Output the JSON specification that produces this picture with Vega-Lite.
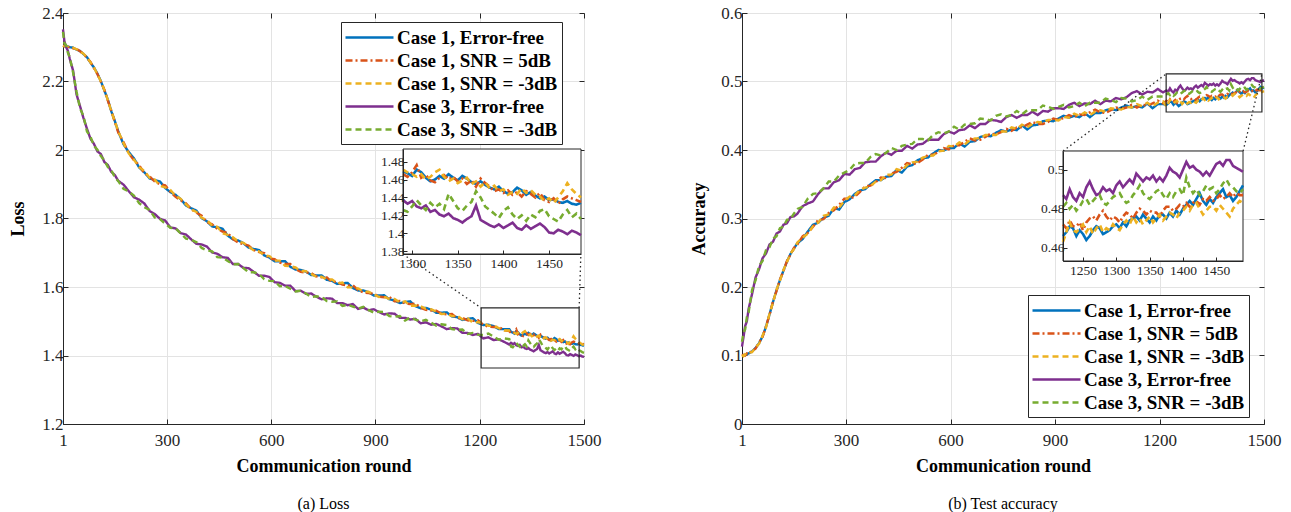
{
"$schema":"https://vega.github.io/schema/vega-lite/v6.json",
"background":"white",
"padding":{"left":9,"top":3,"right":5,"bottom":2},
"spacing":158,
"bounds":"flush",
"config":{"view":{"stroke":"#262626","strokeWidth":1},"font":"Liberation Serif",
"axis":{"labelFont":"Liberation Serif","labelFontSize":17,"labelColor":"#262626","tickColor":"#262626","tickSize":-5,"domainColor":"#262626","gridColor":"#e3e3e3","titleFont":"Liberation Serif","titleFontSize":18,"titleFontWeight":"bold","titleColor":"black","labelFlush":false,"labelOverlap":false},
"legend":{"title":null,"symbolType":"M-2.4,0H2.4","symbolSize":400,"symbolStrokeWidth":2.5,"symbolOffset":13,"labelFont":"Liberation Serif","labelFontSize":19,"labelFontWeight":"bold","labelColor":"black","labelLimit":400,"labelOffset":16,"rowPadding":1,"padding":4,"strokeColor":"#262626","fillColor":"white"}},
"datasets":{
"names":[{"k":"a","series":"Case 1, Error-free"},{"k":"b","series":"Case 1, SNR = 5dB"},{"k":"c","series":"Case 1, SNR = -3dB"},{"k":"d","series":"Case 3, Error-free"},{"k":"e","series":"Case 3, SNR = -3dB"}],
"loss":[
{"r":1,"a":2.304,"b":2.304,"c":2.305,"d":2.352,"e":2.345},
{"r":5,"a":2.303,"b":2.304,"c":2.302,"d":2.318,"e":2.312},
{"r":10,"a":2.302,"b":2.301,"c":2.303,"d":2.3,"e":2.306},
{"r":15,"a":2.302,"b":2.3,"c":2.301,"d":2.29,"e":2.284},
{"r":20,"a":2.3,"b":2.302,"c":2.299,"d":2.268,"e":2.272},
{"r":30,"a":2.299,"b":2.297,"c":2.299,"d":2.232,"e":2.226},
{"r":40,"a":2.293,"b":2.295,"c":2.294,"d":2.162,"e":2.17},
{"r":50,"a":2.289,"b":2.288,"c":2.287,"d":2.128,"e":2.122},
{"r":60,"a":2.28,"b":2.281,"c":2.281,"d":2.093,"e":2.099},
{"r":70,"a":2.271,"b":2.269,"c":2.27,"d":2.062,"e":2.054},
{"r":80,"a":2.255,"b":2.257,"c":2.256,"d":2.033,"e":2.039},
{"r":90,"a":2.241,"b":2.239,"c":2.241,"d":2.018,"e":2.012},
{"r":100,"a":2.223,"b":2.222,"c":2.221,"d":1.996,"e":2.001},
{"r":110,"a":2.201,"b":2.199,"c":2.2,"d":1.988,"e":1.982},
{"r":120,"a":2.174,"b":2.176,"c":2.175,"d":1.965,"e":1.97},
{"r":130,"a":2.147,"b":2.144,"c":2.146,"d":1.956,"e":1.95},
{"r":140,"a":2.113,"b":2.115,"c":2.113,"d":1.936,"e":1.941},
{"r":150,"a":2.085,"b":2.082,"c":2.084,"d":1.927,"e":1.921},
{"r":160,"a":2.054,"b":2.051,"c":2.055,"d":1.91,"e":1.909},
{"r":175,"a":2.017,"b":2.023,"c":2.02,"d":1.899,"e":1.887},
{"r":190,"a":1.994,"b":1.991,"c":1.99,"d":1.88,"e":1.879},
{"r":205,"a":1.976,"b":1.97,"c":1.972,"d":1.862,"e":1.867},
{"r":220,"a":1.949,"b":1.956,"c":1.95,"d":1.855,"e":1.845},
{"r":235,"a":1.935,"b":1.932,"c":1.939,"d":1.844,"e":1.833},
{"r":250,"a":1.917,"b":1.923,"c":1.919,"d":1.822,"e":1.825},
{"r":265,"a":1.912,"b":1.908,"c":1.914,"d":1.813,"e":1.803},
{"r":280,"a":1.908,"b":1.9,"c":1.895,"d":1.799,"e":1.798},
{"r":295,"a":1.889,"b":1.897,"c":1.891,"d":1.794,"e":1.785},
{"r":310,"a":1.877,"b":1.878,"c":1.883,"d":1.774,"e":1.773},
{"r":325,"a":1.869,"b":1.863,"c":1.866,"d":1.771,"e":1.771},
{"r":340,"a":1.856,"b":1.853,"c":1.857,"d":1.757,"e":1.756},
{"r":355,"a":1.838,"b":1.844,"c":1.841,"d":1.753,"e":1.741},
{"r":370,"a":1.83,"b":1.827,"c":1.826,"d":1.739,"e":1.738},
{"r":385,"a":1.823,"b":1.817,"c":1.819,"d":1.726,"e":1.731},
{"r":400,"a":1.801,"b":1.808,"c":1.802,"d":1.724,"e":1.714},
{"r":415,"a":1.792,"b":1.789,"c":1.796,"d":1.718,"e":1.707},
{"r":430,"a":1.777,"b":1.783,"c":1.779,"d":1.701,"e":1.704},
{"r":445,"a":1.774,"b":1.77,"c":1.776,"d":1.697,"e":1.687},
{"r":460,"a":1.77,"b":1.762,"c":1.757,"d":1.687,"e":1.686},
{"r":475,"a":1.75,"b":1.758,"c":1.752,"d":1.685,"e":1.676},
{"r":490,"a":1.739,"b":1.74,"c":1.745,"d":1.667,"e":1.666},
{"r":505,"a":1.736,"b":1.73,"c":1.733,"d":1.667,"e":1.667},
{"r":520,"a":1.728,"b":1.725,"c":1.729,"d":1.656,"e":1.655},
{"r":535,"a":1.715,"b":1.721,"c":1.718,"d":1.655,"e":1.643},
{"r":550,"a":1.711,"b":1.708,"c":1.707,"d":1.644,"e":1.643},
{"r":565,"a":1.708,"b":1.702,"c":1.704,"d":1.633,"e":1.638},
{"r":580,"a":1.692,"b":1.699,"c":1.693,"d":1.633,"e":1.623},
{"r":595,"a":1.686,"b":1.683,"c":1.69,"d":1.629,"e":1.618},
{"r":610,"a":1.675,"b":1.681,"c":1.677,"d":1.614,"e":1.617},
{"r":625,"a":1.675,"b":1.671,"c":1.677,"d":1.612,"e":1.602},
{"r":640,"a":1.675,"b":1.667,"c":1.662,"d":1.604,"e":1.603},
{"r":655,"a":1.659,"b":1.667,"c":1.661,"d":1.604,"e":1.595},
{"r":670,"a":1.651,"b":1.652,"c":1.657,"d":1.588,"e":1.587},
{"r":685,"a":1.65,"b":1.644,"c":1.647,"d":1.589,"e":1.589},
{"r":700,"a":1.645,"b":1.642,"c":1.646,"d":1.58,"e":1.581},
{"r":715,"a":1.635,"b":1.641,"c":1.638,"d":1.581,"e":1.571},
{"r":730,"a":1.634,"b":1.631,"c":1.63,"d":1.572,"e":1.573},
{"r":745,"a":1.634,"b":1.628,"c":1.63,"d":1.564,"e":1.571},
{"r":760,"a":1.621,"b":1.628,"c":1.622,"d":1.567,"e":1.559},
{"r":775,"a":1.618,"b":1.615,"c":1.622,"d":1.566,"e":1.557},
{"r":790,"a":1.609,"b":1.615,"c":1.611,"d":1.553,"e":1.558},
{"r":805,"a":1.611,"b":1.607,"c":1.613,"d":1.553,"e":1.545},
{"r":820,"a":1.612,"b":1.604,"c":1.599,"d":1.547,"e":1.548},
{"r":835,"a":1.597,"b":1.605,"c":1.599,"d":1.55,"e":1.543},
{"r":850,"a":1.59,"b":1.591,"c":1.596,"d":1.536,"e":1.537},
{"r":865,"a":1.59,"b":1.584,"c":1.587,"d":1.54,"e":1.542},
{"r":880,"a":1.585,"b":1.582,"c":1.586,"d":1.532,"e":1.533},
{"r":895,"a":1.575,"b":1.581,"c":1.578,"d":1.535,"e":1.525},
{"r":910,"a":1.575,"b":1.572,"c":1.571,"d":1.527,"e":1.528},
{"r":925,"a":1.576,"b":1.57,"c":1.572,"d":1.52,"e":1.527},
{"r":940,"a":1.564,"b":1.571,"c":1.565,"d":1.523,"e":1.515},
{"r":955,"a":1.561,"b":1.558,"c":1.565,"d":1.522,"e":1.513},
{"r":970,"a":1.553,"b":1.559,"c":1.555,"d":1.51,"e":1.515},
{"r":985,"a":1.556,"b":1.552,"c":1.558,"d":1.51,"e":1.502},
{"r":1000,"a":1.558,"b":1.55,"c":1.545,"d":1.505,"e":1.511},
{"r":1015,"a":1.544,"b":1.552,"c":1.546,"d":1.507,"e":1.505},
{"r":1030,"a":1.538,"b":1.539,"c":1.544,"d":1.494,"e":1.5},
{"r":1045,"a":1.539,"b":1.533,"c":1.536,"d":1.497,"e":1.504},
{"r":1060,"a":1.534,"b":1.531,"c":1.535,"d":1.49,"e":1.496},
{"r":1075,"a":1.525,"b":1.531,"c":1.528,"d":1.492,"e":1.487},
{"r":1090,"a":1.525,"b":1.522,"c":1.521,"d":1.485,"e":1.491},
{"r":1105,"a":1.526,"b":1.52,"c":1.522,"d":1.477,"e":1.489},
{"r":1120,"a":1.514,"b":1.521,"c":1.515,"d":1.48,"e":1.477},
{"r":1135,"a":1.512,"b":1.509,"c":1.516,"d":1.479,"e":1.475},
{"r":1150,"a":1.504,"b":1.51,"c":1.506,"d":1.466,"e":1.476},
{"r":1165,"a":1.507,"b":1.503,"c":1.509,"d":1.466,"e":1.463},
{"r":1180,"a":1.509,"b":1.501,"c":1.496,"d":1.46,"e":1.466},
{"r":1195,"a":1.495,"b":1.503,"c":1.497,"d":1.463,"e":1.461},
{"r":1210,"a":1.489,"b":1.49,"c":1.495,"d":1.45,"e":1.46},
{"r":1225,"a":1.49,"b":1.484,"c":1.487,"d":1.453,"e":1.464},
{"r":1240,"a":1.486,"b":1.483,"c":1.487,"d":1.445,"e":1.455},
{"r":1255,"a":1.477,"b":1.483,"c":1.48,"d":1.447,"e":1.446},
{"r":1270,"a":1.477,"b":1.474,"c":1.473,"d":1.44,"e":1.45},
{"r":1285,"a":1.477,"b":1.471,"c":1.473,"d":1.432,"e":1.448},
{"r":1290,"a":1.469,"b":1.466,"c":1.471,"d":1.437,"e":1.426},
{"r":1295,"a":1.467,"b":1.463,"c":1.468,"d":1.433,"e":1.424},
{"r":1300,"a":1.464,"b":1.468,"c":1.466,"d":1.436,"e":1.43},
{"r":1305,"a":1.471,"b":1.476,"c":1.463,"d":1.43,"e":1.437},
{"r":1310,"a":1.468,"b":1.462,"c":1.466,"d":1.428,"e":1.431},
{"r":1315,"a":1.462,"b":1.465,"c":1.46,"d":1.431,"e":1.426},
{"r":1320,"a":1.458,"b":1.459,"c":1.463,"d":1.424,"e":1.434},
{"r":1325,"a":1.46,"b":1.457,"c":1.468,"d":1.426,"e":1.429},
{"r":1330,"a":1.464,"b":1.462,"c":1.471,"d":1.421,"e":1.433},
{"r":1335,"a":1.461,"b":1.465,"c":1.463,"d":1.419,"e":1.427},
{"r":1340,"a":1.466,"b":1.46,"c":1.458,"d":1.422,"e":1.444},
{"r":1345,"a":1.462,"b":1.463,"c":1.461,"d":1.417,"e":1.436},
{"r":1350,"a":1.459,"b":1.458,"c":1.456,"d":1.415,"e":1.428},
{"r":1355,"a":1.464,"b":1.461,"c":1.459,"d":1.412,"e":1.425},
{"r":1360,"a":1.461,"b":1.455,"c":1.462,"d":1.416,"e":1.431},
{"r":1365,"a":1.457,"b":1.459,"c":1.455,"d":1.419,"e":1.435},
{"r":1370,"a":1.455,"b":1.452,"c":1.458,"d":1.431,"e":1.447},
{"r":1375,"a":1.458,"b":1.461,"c":1.452,"d":1.415,"e":1.44},
{"r":1380,"a":1.454,"b":1.456,"c":1.457,"d":1.412,"e":1.43},
{"r":1385,"a":1.451,"b":1.452,"c":1.45,"d":1.409,"e":1.426},
{"r":1390,"a":1.449,"b":1.447,"c":1.453,"d":1.407,"e":1.422},
{"r":1395,"a":1.452,"b":1.449,"c":1.447,"d":1.41,"e":1.417},
{"r":1400,"a":1.447,"b":1.445,"c":1.449,"d":1.406,"e":1.425},
{"r":1405,"a":1.444,"b":1.448,"c":1.443,"d":1.409,"e":1.429},
{"r":1410,"a":1.446,"b":1.443,"c":1.446,"d":1.412,"e":1.421},
{"r":1415,"a":1.451,"b":1.446,"c":1.444,"d":1.406,"e":1.416},
{"r":1420,"a":1.448,"b":1.441,"c":1.45,"d":1.404,"e":1.42},
{"r":1425,"a":1.443,"b":1.447,"c":1.445,"d":1.409,"e":1.414},
{"r":1430,"a":1.446,"b":1.444,"c":1.448,"d":1.405,"e":1.421},
{"r":1435,"a":1.442,"b":1.44,"c":1.443,"d":1.408,"e":1.418},
{"r":1440,"a":1.439,"b":1.445,"c":1.441,"d":1.411,"e":1.425},
{"r":1445,"a":1.441,"b":1.437,"c":1.436,"d":1.407,"e":1.427},
{"r":1450,"a":1.437,"b":1.435,"c":1.439,"d":1.401,"e":1.419},
{"r":1455,"a":1.438,"b":1.439,"c":1.434,"d":1.4,"e":1.416},
{"r":1460,"a":1.435,"b":1.433,"c":1.44,"d":1.404,"e":1.413},
{"r":1465,"a":1.434,"b":1.438,"c":1.447,"d":1.402,"e":1.421},
{"r":1470,"a":1.436,"b":1.441,"c":1.456,"d":1.399,"e":1.426},
{"r":1475,"a":1.433,"b":1.439,"c":1.449,"d":1.403,"e":1.418},
{"r":1480,"a":1.432,"b":1.437,"c":1.444,"d":1.401,"e":1.422},
{"r":1485,"a":1.434,"b":1.435,"c":1.44,"d":1.398,"e":1.416},
{"r":1490,"a":1.431,"b":1.437,"c":1.436,"d":1.4,"e":1.413},
{"r":1495,"a":1.43,"b":1.434,"c":1.432,"d":1.397,"e":1.41},
{"r":1500,"a":1.428,"b":1.433,"c":1.431,"d":1.396,"e":1.408}
],
"acc":[
{"r":1,"a":0.1,"b":0.1,"c":0.101,"d":0.113,"e":0.12},
{"r":5,"a":0.1,"b":0.101,"c":0.099,"d":0.126,"e":0.133},
{"r":10,"a":0.101,"b":0.1,"c":0.102,"d":0.143,"e":0.138},
{"r":15,"a":0.102,"b":0.103,"c":0.101,"d":0.15,"e":0.156},
{"r":20,"a":0.103,"b":0.102,"c":0.104,"d":0.168,"e":0.163},
{"r":30,"a":0.106,"b":0.107,"c":0.105,"d":0.19,"e":0.196},
{"r":40,"a":0.111,"b":0.11,"c":0.112,"d":0.214,"e":0.21},
{"r":50,"a":0.118,"b":0.119,"c":0.117,"d":0.226,"e":0.231},
{"r":60,"a":0.128,"b":0.127,"c":0.129,"d":0.242,"e":0.238},
{"r":70,"a":0.142,"b":0.143,"c":0.141,"d":0.249,"e":0.254},
{"r":80,"a":0.16,"b":0.159,"c":0.161,"d":0.262,"e":0.258},
{"r":90,"a":0.178,"b":0.179,"c":0.177,"d":0.266,"e":0.271},
{"r":100,"a":0.195,"b":0.194,"c":0.196,"d":0.278,"e":0.274},
{"r":110,"a":0.21,"b":0.211,"c":0.209,"d":0.281,"e":0.286},
{"r":120,"a":0.224,"b":0.223,"c":0.225,"d":0.291,"e":0.288},
{"r":130,"a":0.237,"b":0.238,"c":0.236,"d":0.293,"e":0.298},
{"r":140,"a":0.248,"b":0.247,"c":0.249,"d":0.302,"e":0.299},
{"r":150,"a":0.256,"b":0.257,"c":0.255,"d":0.303,"e":0.307},
{"r":160,"a":0.264,"b":0.262,"c":0.265,"d":0.307,"e":0.314},
{"r":175,"a":0.27,"b":0.274,"c":0.272,"d":0.318,"e":0.317},
{"r":190,"a":0.281,"b":0.279,"c":0.278,"d":0.322,"e":0.329},
{"r":205,"a":0.291,"b":0.288,"c":0.289,"d":0.325,"e":0.336},
{"r":220,"a":0.294,"b":0.298,"c":0.294,"d":0.336,"e":0.337},
{"r":235,"a":0.301,"b":0.299,"c":0.304,"d":0.344,"e":0.344},
{"r":250,"a":0.304,"b":0.308,"c":0.306,"d":0.344,"e":0.354},
{"r":265,"a":0.315,"b":0.312,"c":0.316,"d":0.353,"e":0.354},
{"r":280,"a":0.313,"b":0.32,"c":0.316,"d":0.356,"e":0.363},
{"r":295,"a":0.324,"b":0.329,"c":0.326,"d":0.365,"e":0.367},
{"r":310,"a":0.328,"b":0.329,"c":0.332,"d":0.364,"e":0.371},
{"r":325,"a":0.336,"b":0.332,"c":0.334,"d":0.372,"e":0.38},
{"r":340,"a":0.341,"b":0.339,"c":0.342,"d":0.374,"e":0.381},
{"r":355,"a":0.343,"b":0.347,"c":0.345,"d":0.382,"e":0.381},
{"r":370,"a":0.35,"b":0.348,"c":0.347,"d":0.383,"e":0.39},
{"r":385,"a":0.356,"b":0.353,"c":0.354,"d":0.383,"e":0.394},
{"r":400,"a":0.356,"b":0.36,"c":0.356,"d":0.391,"e":0.392},
{"r":415,"a":0.361,"b":0.359,"c":0.364,"d":0.396,"e":0.396},
{"r":430,"a":0.362,"b":0.366,"c":0.364,"d":0.393,"e":0.403},
{"r":445,"a":0.371,"b":0.368,"c":0.372,"d":0.399,"e":0.4},
{"r":460,"a":0.367,"b":0.374,"c":0.37,"d":0.399,"e":0.406},
{"r":475,"a":0.376,"b":0.381,"c":0.378,"d":0.406,"e":0.408},
{"r":490,"a":0.378,"b":0.379,"c":0.382,"d":0.402,"e":0.409},
{"r":505,"a":0.385,"b":0.381,"c":0.383,"d":0.408,"e":0.416},
{"r":520,"a":0.388,"b":0.386,"c":0.389,"d":0.409,"e":0.416},
{"r":535,"a":0.389,"b":0.393,"c":0.391,"d":0.415,"e":0.414},
{"r":550,"a":0.395,"b":0.393,"c":0.392,"d":0.415,"e":0.422},
{"r":565,"a":0.4,"b":0.397,"c":0.398,"d":0.415,"e":0.426},
{"r":580,"a":0.399,"b":0.403,"c":0.399,"d":0.423,"e":0.424},
{"r":595,"a":0.403,"b":0.401,"c":0.406,"d":0.427,"e":0.427},
{"r":610,"a":0.403,"b":0.407,"c":0.405,"d":0.424,"e":0.434},
{"r":625,"a":0.41,"b":0.407,"c":0.411,"d":0.429,"e":0.43},
{"r":640,"a":0.405,"b":0.412,"c":0.408,"d":0.43,"e":0.437},
{"r":655,"a":0.412,"b":0.417,"c":0.414,"d":0.436,"e":0.438},
{"r":670,"a":0.413,"b":0.414,"c":0.417,"d":0.432,"e":0.439},
{"r":685,"a":0.419,"b":0.415,"c":0.417,"d":0.438,"e":0.446},
{"r":700,"a":0.421,"b":0.419,"c":0.422,"d":0.438,"e":0.445},
{"r":715,"a":0.42,"b":0.424,"c":0.422,"d":0.444,"e":0.443},
{"r":730,"a":0.425,"b":0.423,"c":0.422,"d":0.443,"e":0.45},
{"r":745,"a":0.429,"b":0.426,"c":0.427,"d":0.441,"e":0.452},
{"r":760,"a":0.427,"b":0.431,"c":0.427,"d":0.448,"e":0.449},
{"r":775,"a":0.43,"b":0.428,"c":0.433,"d":0.451,"e":0.451},
{"r":790,"a":0.429,"b":0.433,"c":0.431,"d":0.447,"e":0.457},
{"r":805,"a":0.436,"b":0.433,"c":0.437,"d":0.451,"e":0.452},
{"r":820,"a":0.43,"b":0.437,"c":0.433,"d":0.451,"e":0.458},
{"r":835,"a":0.436,"b":0.441,"c":0.438,"d":0.456,"e":0.458},
{"r":850,"a":0.437,"b":0.438,"c":0.441,"d":0.451,"e":0.458},
{"r":865,"a":0.442,"b":0.438,"c":0.44,"d":0.457,"e":0.465},
{"r":880,"a":0.443,"b":0.441,"c":0.444,"d":0.456,"e":0.463},
{"r":895,"a":0.442,"b":0.446,"c":0.444,"d":0.461,"e":0.46},
{"r":910,"a":0.446,"b":0.444,"c":0.443,"d":0.461,"e":0.463},
{"r":925,"a":0.45,"b":0.447,"c":0.448,"d":0.46,"e":0.466},
{"r":940,"a":0.447,"b":0.451,"c":0.447,"d":0.466,"e":0.462},
{"r":955,"a":0.45,"b":0.448,"c":0.453,"d":0.469,"e":0.464},
{"r":970,"a":0.448,"b":0.452,"c":0.45,"d":0.464,"e":0.469},
{"r":985,"a":0.454,"b":0.451,"c":0.455,"d":0.468,"e":0.464},
{"r":1000,"a":0.448,"b":0.455,"c":0.451,"d":0.467,"e":0.469},
{"r":1015,"a":0.454,"b":0.459,"c":0.456,"d":0.472,"e":0.469},
{"r":1030,"a":0.454,"b":0.455,"c":0.458,"d":0.467,"e":0.469},
{"r":1045,"a":0.458,"b":0.454,"c":0.456,"d":0.472,"e":0.475},
{"r":1060,"a":0.46,"b":0.458,"c":0.461,"d":0.471,"e":0.473},
{"r":1075,"a":0.458,"b":0.462,"c":0.46,"d":0.476,"e":0.47},
{"r":1090,"a":0.462,"b":0.46,"c":0.459,"d":0.474,"e":0.476},
{"r":1105,"a":0.465,"b":0.462,"c":0.463,"d":0.477,"e":0.475},
{"r":1120,"a":0.462,"b":0.466,"c":0.462,"d":0.483,"e":0.471},
{"r":1135,"a":0.464,"b":0.462,"c":0.467,"d":0.486,"e":0.473},
{"r":1150,"a":0.462,"b":0.466,"c":0.464,"d":0.481,"e":0.478},
{"r":1165,"a":0.468,"b":0.465,"c":0.469,"d":0.485,"e":0.473},
{"r":1180,"a":0.461,"b":0.468,"c":0.464,"d":0.484,"e":0.478},
{"r":1195,"a":0.467,"b":0.472,"c":0.469,"d":0.489,"e":0.478},
{"r":1210,"a":0.467,"b":0.468,"c":0.471,"d":0.484,"e":0.478},
{"r":1220,"a":0.466,"b":0.472,"c":0.463,"d":0.487,"e":0.481},
{"r":1225,"a":0.468,"b":0.47,"c":0.468,"d":0.485,"e":0.483},
{"r":1230,"a":0.471,"b":0.474,"c":0.473,"d":0.49,"e":0.48},
{"r":1235,"a":0.47,"b":0.471,"c":0.469,"d":0.486,"e":0.482},
{"r":1240,"a":0.466,"b":0.471,"c":0.468,"d":0.484,"e":0.479},
{"r":1245,"a":0.469,"b":0.473,"c":0.47,"d":0.488,"e":0.481},
{"r":1250,"a":0.467,"b":0.469,"c":0.472,"d":0.486,"e":0.484},
{"r":1255,"a":0.464,"b":0.473,"c":0.468,"d":0.491,"e":0.485},
{"r":1260,"a":0.466,"b":0.475,"c":0.471,"d":0.494,"e":0.482},
{"r":1265,"a":0.469,"b":0.476,"c":0.467,"d":0.49,"e":0.484},
{"r":1270,"a":0.471,"b":0.474,"c":0.47,"d":0.487,"e":0.486},
{"r":1275,"a":0.47,"b":0.477,"c":0.472,"d":0.488,"e":0.487},
{"r":1280,"a":0.467,"b":0.479,"c":0.468,"d":0.491,"e":0.483},
{"r":1285,"a":0.468,"b":0.476,"c":0.47,"d":0.489,"e":0.482},
{"r":1290,"a":0.469,"b":0.474,"c":0.469,"d":0.49,"e":0.484},
{"r":1295,"a":0.471,"b":0.476,"c":0.472,"d":0.488,"e":0.486},
{"r":1300,"a":0.472,"b":0.475,"c":0.47,"d":0.492,"e":0.487},
{"r":1305,"a":0.47,"b":0.473,"c":0.469,"d":0.494,"e":0.488},
{"r":1310,"a":0.473,"b":0.476,"c":0.472,"d":0.491,"e":0.485},
{"r":1315,"a":0.471,"b":0.478,"c":0.474,"d":0.493,"e":0.483},
{"r":1320,"a":0.474,"b":0.477,"c":0.472,"d":0.495,"e":0.484},
{"r":1325,"a":0.475,"b":0.475,"c":0.476,"d":0.493,"e":0.487},
{"r":1330,"a":0.476,"b":0.478,"c":0.473,"d":0.498,"e":0.489},
{"r":1335,"a":0.474,"b":0.48,"c":0.475,"d":0.496,"e":0.492},
{"r":1340,"a":0.477,"b":0.479,"c":0.472,"d":0.494,"e":0.488},
{"r":1345,"a":0.475,"b":0.477,"c":0.474,"d":0.496,"e":0.486},
{"r":1350,"a":0.473,"b":0.479,"c":0.476,"d":0.495,"e":0.485},
{"r":1355,"a":0.476,"b":0.478,"c":0.473,"d":0.497,"e":0.487},
{"r":1360,"a":0.474,"b":0.478,"c":0.475,"d":0.494,"e":0.489},
{"r":1365,"a":0.477,"b":0.476,"c":0.477,"d":0.496,"e":0.49},
{"r":1370,"a":0.477,"b":0.479,"c":0.474,"d":0.494,"e":0.487},
{"r":1375,"a":0.475,"b":0.481,"c":0.476,"d":0.497,"e":0.485},
{"r":1380,"a":0.478,"b":0.481,"c":0.478,"d":0.501,"e":0.488},
{"r":1385,"a":0.476,"b":0.479,"c":0.477,"d":0.499,"e":0.486},
{"r":1390,"a":0.479,"b":0.48,"c":0.475,"d":0.498,"e":0.489},
{"r":1395,"a":0.477,"b":0.482,"c":0.478,"d":0.496,"e":0.49},
{"r":1400,"a":0.48,"b":0.481,"c":0.479,"d":0.5,"e":0.487},
{"r":1405,"a":0.482,"b":0.483,"c":0.481,"d":0.504,"e":0.496},
{"r":1410,"a":0.484,"b":0.481,"c":0.479,"d":0.501,"e":0.491},
{"r":1415,"a":0.482,"b":0.483,"c":0.482,"d":0.502,"e":0.488},
{"r":1420,"a":0.485,"b":0.484,"c":0.483,"d":0.5,"e":0.49},
{"r":1425,"a":0.488,"b":0.482,"c":0.48,"d":0.499,"e":0.487},
{"r":1430,"a":0.484,"b":0.485,"c":0.477,"d":0.497,"e":0.489},
{"r":1435,"a":0.482,"b":0.484,"c":0.479,"d":0.499,"e":0.492},
{"r":1440,"a":0.485,"b":0.486,"c":0.481,"d":0.497,"e":0.49},
{"r":1445,"a":0.483,"b":0.484,"c":0.481,"d":0.5,"e":0.491},
{"r":1450,"a":0.486,"b":0.485,"c":0.479,"d":0.503,"e":0.488},
{"r":1455,"a":0.488,"b":0.487,"c":0.482,"d":0.504,"e":0.49},
{"r":1460,"a":0.49,"b":0.485,"c":0.48,"d":0.502,"e":0.493},
{"r":1465,"a":0.486,"b":0.486,"c":0.478,"d":0.505,"e":0.495},
{"r":1470,"a":0.487,"b":0.488,"c":0.476,"d":0.505,"e":0.492},
{"r":1475,"a":0.484,"b":0.486,"c":0.48,"d":0.502,"e":0.491},
{"r":1480,"a":0.486,"b":0.488,"c":0.482,"d":0.501,"e":0.489},
{"r":1485,"a":0.489,"b":0.487,"c":0.484,"d":0.5,"e":0.488},
{"r":1490,"a":0.492,"b":0.487,"c":0.483,"d":0.499,"e":0.49},
{"r":1495,"a":0.49,"b":0.488,"c":0.485,"d":0.501,"e":0.491},
{"r":1500,"a":0.491,"b":0.489,"c":0.486,"d":0.502,"e":0.492}
]},
"hconcat":[
{"width":521,"height":411,
"title":{"text":"(a) Loss","orient":"bottom","font":"Liberation Serif","fontSize":16,"fontWeight":"normal","color":"black","offset":21},
"layer":[
{"encoding":{
"x":{"field":"r","type":"quantitative","scale":{"domain":[1,1500],"nice":false,"zero":false},"axis":{"orient":"bottom","values":[1,300,600,900,1200,1500],"format":"d","title":"Communication round","grid":true,"titlePadding":9,"labelPadding":13}},
"y":{"field":"v","type":"quantitative","scale":{"domain":[1.2,2.4],"nice":false,"zero":false},"axis":{"orient":"left","values":[1.2,1.4,1.6,1.8,2,2.2,2.4],"format":"~g","title":"Loss","grid":true,"titlePadding":14,"labelPadding":5}}},
"layer":[
{"data":{"name":"loss"},"transform":[{"fold":["a","b","c","d","e"],"as":["k","v"]},{"lookup":"k","from":{"data":{"name":"names"},"key":"k","fields":["series"]}}],
"mark":{"type":"line","strokeWidth":2.4},
"encoding":{
"color":{"field":"series","type":"nominal","scale":{"domain":["Case 1, Error-free","Case 1, SNR = 5dB","Case 1, SNR = -3dB","Case 3, Error-free","Case 3, SNR = -3dB"],"range":["#0072BD","#D95319","#EDB120","#7E2F8E","#77AC30"]},"legend":{"orient":"none","legendX":278,"legendY":9}},
"strokeDash":{"field":"series","type":"nominal","scale":{"domain":["Case 1, Error-free","Case 1, SNR = 5dB","Case 1, SNR = -3dB","Case 3, Error-free","Case 3, SNR = -3dB"],"range":[[1,0],[7,3,2,3],[6,4],[1,0],[6,4]]},"legend":{"orient":"none","legendX":278,"legendY":9}}}},
{"data":{"values":[{"r":1204,"r2":1486,"v":1.3635,"v2":1.539}]},"mark":{"type":"rect","filled":false,"color":"#262626","strokeWidth":1.2},"encoding":{"x2":{"field":"r2"},"y2":{"field":"v2"}}},
{"data":{"values":[{"r":979,"v":1.696,"g":1},{"r":1204,"v":1.539,"g":1},{"r":1486,"v":1.539,"g":2},{"r":1491,"v":1.696,"g":2}]},"mark":{"type":"line","color":"#262626","strokeWidth":1.3,"strokeDash":[1.5,3]},"encoding":{"detail":{"field":"g","type":"nominal"}}}
]},
{"encoding":{
"x":{"field":"r","type":"quantitative","scale":{"domain":[1290,1485],"range":[340,518],"nice":false,"zero":false},"axis":{"orient":"bottom","offset":-170,"values":[1300,1350,1400,1450],"format":"d","title":null,"grid":false,"labelFontSize":13.5,"tickSize":-4,"labelPadding":6,"zindex":2}},
"y":{"field":"v","type":"quantitative","scale":{"domain":[1.377,1.494],"range":[241,136],"nice":false,"zero":false},"axis":{"orient":"left","offset":-340,"values":[1.38,1.4,1.42,1.44,1.46,1.48],"format":"~g","title":null,"grid":false,"labelFontSize":13.5,"tickSize":-4,"labelPadding":3,"zindex":2}}},
"layer":[
{"data":{"values":[{"r":1290,"r2":1485,"v":1.377,"v2":1.494}]},"mark":{"type":"rect","fill":"white","stroke":"#262626","strokeWidth":1},"encoding":{"x2":{"field":"r2"},"y2":{"field":"v2"}}},
{"data":{"name":"loss"},"transform":[{"fold":["a","b","c","d","e"],"as":["k","v"]},{"lookup":"k","from":{"data":{"name":"names"},"key":"k","fields":["series"]}},{"filter":"datum.r >= 1290 && datum.r <= 1485"}],
"mark":{"type":"line","strokeWidth":2.6},
"encoding":{
"color":{"field":"series","type":"nominal","scale":{"domain":["Case 1, Error-free","Case 1, SNR = 5dB","Case 1, SNR = -3dB","Case 3, Error-free","Case 3, SNR = -3dB"],"range":["#0072BD","#D95319","#EDB120","#7E2F8E","#77AC30"]},"legend":{"orient":"none","legendX":278,"legendY":9}},
"strokeDash":{"field":"series","type":"nominal","scale":{"domain":["Case 1, Error-free","Case 1, SNR = 5dB","Case 1, SNR = -3dB","Case 3, Error-free","Case 3, SNR = -3dB"],"range":[[1,0],[7,3,2,3],[6,4],[1,0],[6,4]]},"legend":{"orient":"none","legendX":278,"legendY":9}}}}
]},
{"data":{"values":[{"r":1500,"v":2.4}]},"mark":{"type":"point","opacity":0},
"encoding":{
"x":{"field":"r","type":"quantitative","scale":{"domain":[1,1500],"nice":false,"zero":false},"axis":{"orient":"top","values":[1,300,600,900,1200,1500],"labels":false,"grid":false,"domain":false,"title":null,"tickSize":-5}},
"y":{"field":"v","type":"quantitative","scale":{"domain":[1.2,2.4],"nice":false,"zero":false},"axis":{"orient":"right","values":[1.2,1.4,1.6,1.8,2,2.2,2.4],"labels":false,"grid":false,"domain":false,"title":null,"tickSize":-5}}}}
],
"resolve":{"scale":{"x":"independent","y":"independent"}}},
{"width":522,"height":411,
"title":{"text":"(b) Test accuracy","orient":"bottom","font":"Liberation Serif","fontSize":16,"fontWeight":"normal","color":"black","offset":21},
"layer":[
{"encoding":{
"x":{"field":"r","type":"quantitative","scale":{"domain":[1,1500],"nice":false,"zero":false},"axis":{"orient":"bottom","values":[1,300,600,900,1200,1500],"format":"d","title":"Communication round","grid":true,"titlePadding":9,"labelPadding":13}},
"y":{"field":"v","type":"quantitative","scale":{"domain":[0,0.6],"nice":false,"zero":false},"axis":{"orient":"left","values":[0,0.1,0.2,0.3,0.4,0.5,0.6],"format":"~g","title":"Accuracy","grid":true,"titlePadding":12,"labelPadding":5}}},
"layer":[
{"data":{"name":"acc"},"transform":[{"fold":["a","b","c","d","e"],"as":["k","v"]},{"lookup":"k","from":{"data":{"name":"names"},"key":"k","fields":["series"]}}],
"mark":{"type":"line","strokeWidth":2.4},
"encoding":{
"color":{"field":"series","type":"nominal","scale":{"domain":["Case 1, Error-free","Case 1, SNR = 5dB","Case 1, SNR = -3dB","Case 3, Error-free","Case 3, SNR = -3dB"],"range":["#0072BD","#D95319","#EDB120","#7E2F8E","#77AC30"]},"legend":{"orient":"none","legendX":286,"legendY":282}},
"strokeDash":{"field":"series","type":"nominal","scale":{"domain":["Case 1, Error-free","Case 1, SNR = 5dB","Case 1, SNR = -3dB","Case 3, Error-free","Case 3, SNR = -3dB"],"range":[[1,0],[7,3,2,3],[6,4],[1,0],[6,4]]},"legend":{"orient":"none","legendX":286,"legendY":282}}}},
{"data":{"values":[{"r":1219,"r2":1494,"v":0.4555,"v2":0.511}]},"mark":{"type":"rect","filled":false,"color":"#262626","strokeWidth":1.2},"encoding":{"x2":{"field":"r2"},"y2":{"field":"v2"}}},
{"data":{"values":[{"r":923,"v":0.3985,"g":1},{"r":1219,"v":0.511,"g":1},{"r":1440,"v":0.3985,"g":2},{"r":1494,"v":0.511,"g":2}]},"mark":{"type":"line","color":"#262626","strokeWidth":1.3,"strokeDash":[1.5,3]},"encoding":{"detail":{"field":"g","type":"nominal"}}}
]},
{"encoding":{
"x":{"field":"r","type":"quantitative","scale":{"domain":[1220,1490],"range":[321,501],"nice":false,"zero":false},"axis":{"orient":"bottom","offset":-163,"values":[1250,1300,1350,1400,1450],"format":"d","title":null,"grid":false,"labelFontSize":13.5,"tickSize":-4,"labelPadding":6,"zindex":2}},
"y":{"field":"v","type":"quantitative","scale":{"domain":[0.4532,0.5096],"range":[248,138],"nice":false,"zero":false},"axis":{"orient":"left","offset":-321,"values":[0.46,0.48,0.5],"format":"~g","title":null,"grid":false,"labelFontSize":13.5,"tickSize":-4,"labelPadding":3,"zindex":2}}},
"layer":[
{"data":{"values":[{"r":1220,"r2":1490,"v":0.4532,"v2":0.5096}]},"mark":{"type":"rect","fill":"white","stroke":"#262626","strokeWidth":1},"encoding":{"x2":{"field":"r2"},"y2":{"field":"v2"}}},
{"data":{"name":"acc"},"transform":[{"fold":["a","b","c","d","e"],"as":["k","v"]},{"lookup":"k","from":{"data":{"name":"names"},"key":"k","fields":["series"]}},{"filter":"datum.r >= 1220 && datum.r <= 1490"}],
"mark":{"type":"line","strokeWidth":2.6},
"encoding":{
"color":{"field":"series","type":"nominal","scale":{"domain":["Case 1, Error-free","Case 1, SNR = 5dB","Case 1, SNR = -3dB","Case 3, Error-free","Case 3, SNR = -3dB"],"range":["#0072BD","#D95319","#EDB120","#7E2F8E","#77AC30"]},"legend":{"orient":"none","legendX":286,"legendY":282}},
"strokeDash":{"field":"series","type":"nominal","scale":{"domain":["Case 1, Error-free","Case 1, SNR = 5dB","Case 1, SNR = -3dB","Case 3, Error-free","Case 3, SNR = -3dB"],"range":[[1,0],[7,3,2,3],[6,4],[1,0],[6,4]]},"legend":{"orient":"none","legendX":286,"legendY":282}}}}
]},
{"data":{"values":[{"r":1500,"v":0.6}]},"mark":{"type":"point","opacity":0},
"encoding":{
"x":{"field":"r","type":"quantitative","scale":{"domain":[1,1500],"nice":false,"zero":false},"axis":{"orient":"top","values":[1,300,600,900,1200,1500],"labels":false,"grid":false,"domain":false,"title":null,"tickSize":-5}},
"y":{"field":"v","type":"quantitative","scale":{"domain":[0,0.6],"nice":false,"zero":false},"axis":{"orient":"right","values":[0,0.1,0.2,0.3,0.4,0.5,0.6],"labels":false,"grid":false,"domain":false,"title":null,"tickSize":-5}}}}
],
"resolve":{"scale":{"x":"independent","y":"independent"}}}
],
"resolve":{"scale":{"color":"independent","strokeDash":"independent"}}
}
